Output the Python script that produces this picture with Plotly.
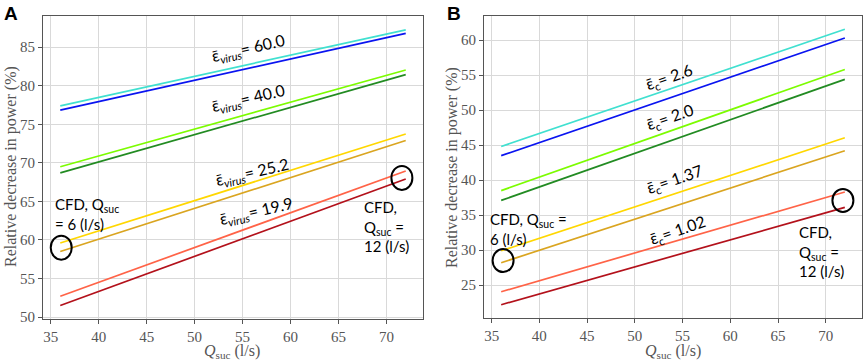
import plotly.graph_objects as go

# ---------------- data ----------------
q_suc = [36, 72]  # l/s

colors = ["#40e0d0", "#0a14f0", "#7cfc00", "#228b22", "#ffd700", "#daa520", "#ff6347", "#b3111b"]

# Panel A: relative decrease in power (%) at Q=36 and Q=72
a_series = [
    [77.4, 87.25],
    [76.85, 86.8],
    [69.5, 82.05],
    [68.7, 81.45],
    [59.6, 73.75],
    [58.5, 72.9],
    [52.7, 68.95],
    [51.5, 67.9],
]
# Panel B
b_series = [
    [44.8, 61.55],
    [43.5, 60.3],
    [38.5, 55.8],
    [37.1, 54.4],
    [29.9, 46.05],
    [28.2, 44.2],
    [24.05, 38.3],
    [22.2, 36.1],
]

a_labels = ["60.0", "40.0", "25.2", "19.9"]
a_label_x = [55.6, 55.6, 56.0, 56.4]
a_label_y = [84.9, 78.4, 68.8, 63.7]

b_labels = ["2.6", "2.0", "1.37", "1.02"]
b_label_x = [53.6, 53.7, 54.2, 54.5]
b_label_y = [54.7, 48.9, 40.05, 32.8]

a_ticks_x = [35, 40, 45, 50, 55, 60, 65, 70]
a_ticks_y = [50, 55, 60, 65, 70, 75, 80, 85]
b_ticks_y = [25, 30, 35, 40, 45, 50, 55, 60]

# CFD marker points (circled)
a_cfd_x = [36.1, 71.6]
a_cfd_y = [59.0, 68.05]
b_cfd_x = [36.2, 71.8]
b_cfd_y = [28.5, 37.1]

# ---------------- geometry helpers ----------------
W, H = 865, 361


def px(x):
    return x / W


def py(y):
    return 1 - y / H


# ---------------- figure ----------------
fig = go.Figure()
for vals, c in zip(a_series, colors):
    fig.add_trace(go.Scatter(x=q_suc, y=vals, mode="lines", line=dict(color=c, width=1.7),
                             xaxis="x", yaxis="y", showlegend=False, hoverinfo="skip"))
for vals, c in zip(b_series, colors):
    fig.add_trace(go.Scatter(x=q_suc, y=vals, mode="lines", line=dict(color=c, width=1.7),
                             xaxis="x2", yaxis="y2", showlegend=False, hoverinfo="skip"))

serif = "Liberation Serif, DejaVu Serif, serif"
sans = "Lato, Open Sans, DejaVu Sans, sans-serif"
tickfont = dict(family=serif, size=15, color="#555555")

axis_common = dict(showgrid=True, gridcolor="#d9d9d9", gridwidth=1, zeroline=False,
                   showline=True, linecolor="#555555", linewidth=1.2, mirror=True,
                   ticks="outside", ticklen=4, tickcolor="#555555", tickfont=tickfont,
                   automargin=False)

fig.update_layout(
    width=W, height=H,
    margin=dict(l=0, r=0, t=0, b=0, autoexpand=False),
    paper_bgcolor="white", plot_bgcolor="white",
    xaxis=dict(domain=[px(43), px(423)], range=[34.2, 73.8], tickvals=a_ticks_x, anchor="y", **axis_common),
    yaxis=dict(domain=[py(319), py(16)], range=[49.75, 89.05], tickvals=a_ticks_y, anchor="x", **axis_common),
    xaxis2=dict(domain=[px(484), px(862)], range=[34.2, 73.8], tickvals=a_ticks_x, anchor="y2", **axis_common),
    yaxis2=dict(domain=[py(318), py(16)], range=[20.3, 63.45], tickvals=b_ticks_y, anchor="x2", **axis_common),
)

ann = []
labfont = dict(family=sans, size=16, color="black")
for t, x, y in zip(a_labels, a_label_x, a_label_y):
    ann.append(dict(x=x, y=y, xref="x", yref="y", showarrow=False, textangle=-13,
                    xanchor="center", yanchor="middle",
                    text="\u03b5\u0304<sub><i>virus</i></sub>= " + t, font=labfont))
for t, x, y in zip(b_labels, b_label_x, b_label_y):
    ann.append(dict(x=x, y=y, xref="x2", yref="y2", showarrow=False, textangle=-19,
                    xanchor="center", yanchor="middle",
                    text="\u03b5\u0304<sub>c</sub>= " + t, font=labfont))

cfdfont = dict(family=sans, size=15, color="black")
px_ann = []
px_ann.append(dict(x=53, y=193, text="CFD, Q<sub>suc</sub><br>= 6 (l/s)",
                   align="left", xanchor="left", yanchor="top", font=cfdfont))
px_ann.append(dict(x=362, y=196, text="CFD,<br>Q<sub>suc</sub> =<br>12 (l/s)",
                   align="left", xanchor="left", yanchor="top", font=cfdfont))
px_ann.append(dict(x=488, y=208, text="CFD, Q<sub>suc</sub> =<br>6 (l/s)",
                   align="left", xanchor="left", yanchor="top", font=cfdfont))
px_ann.append(dict(x=797, y=221, text="CFD,<br>Q<sub>suc</sub> =<br>12 (l/s)",
                   align="left", xanchor="left", yanchor="top", font=cfdfont))

titlefont = dict(family=serif, size=16, color="#555555")
px_ann.append(dict(x=11, y=167, text="Relative decrease in power (%)", textangle=-90,
                   xanchor="center", yanchor="middle", font=titlefont))
px_ann.append(dict(x=452, y=167, text="Relative decrease in power (%)", textangle=-90,
                   xanchor="center", yanchor="middle", font=titlefont))
px_ann.append(dict(x=232, y=351, text="<i>Q</i><sub>suc</sub> (l/s)",
                   xanchor="center", yanchor="middle", font=titlefont))
px_ann.append(dict(x=673, y=351, text="<i>Q</i><sub>suc</sub> (l/s)",
                   xanchor="center", yanchor="middle", font=titlefont))
px_ann.append(dict(x=2, y=1, text="<b>A</b>", xanchor="left", yanchor="top",
                   font=dict(family="Liberation Sans, Arial, sans-serif", size=19, color="black")))
px_ann.append(dict(x=445, y=1, text="<b>B</b>", xanchor="left", yanchor="top",
                   font=dict(family="Liberation Sans, Arial, sans-serif", size=19, color="black")))

for a in px_ann:
    a["x"] = px(a["x"])
    a["y"] = py(a["y"])
    a["xref"] = "paper"
    a["yref"] = "paper"
    a["showarrow"] = False
    ann.append(a)

fig.update_layout(annotations=ann)

shapes = []
for x, y in zip(a_cfd_x, a_cfd_y):
    shapes.append(dict(type="circle", xref="x", yref="y", xsizemode="pixel", ysizemode="pixel",
                       xanchor=x, yanchor=y, x0=-10.5, x1=10.5, y0=-12, y1=12,
                       line=dict(color="black", width=2)))
for x, y in zip(b_cfd_x, b_cfd_y):
    shapes.append(dict(type="circle", xref="x2", yref="y2", xsizemode="pixel", ysizemode="pixel",
                       xanchor=x, yanchor=y, x0=-10.5, x1=10.5, y0=-11.5, y1=11.5,
                       line=dict(color="black", width=2)))
fig.update_layout(shapes=shapes)

# remove the browser's default page margin so the figure sits at the window origin
fig.write_html("out.html", config={"displayModeBar": False},
               post_script="document.body.style.margin='0px';document.body.style.overflow='hidden';")
